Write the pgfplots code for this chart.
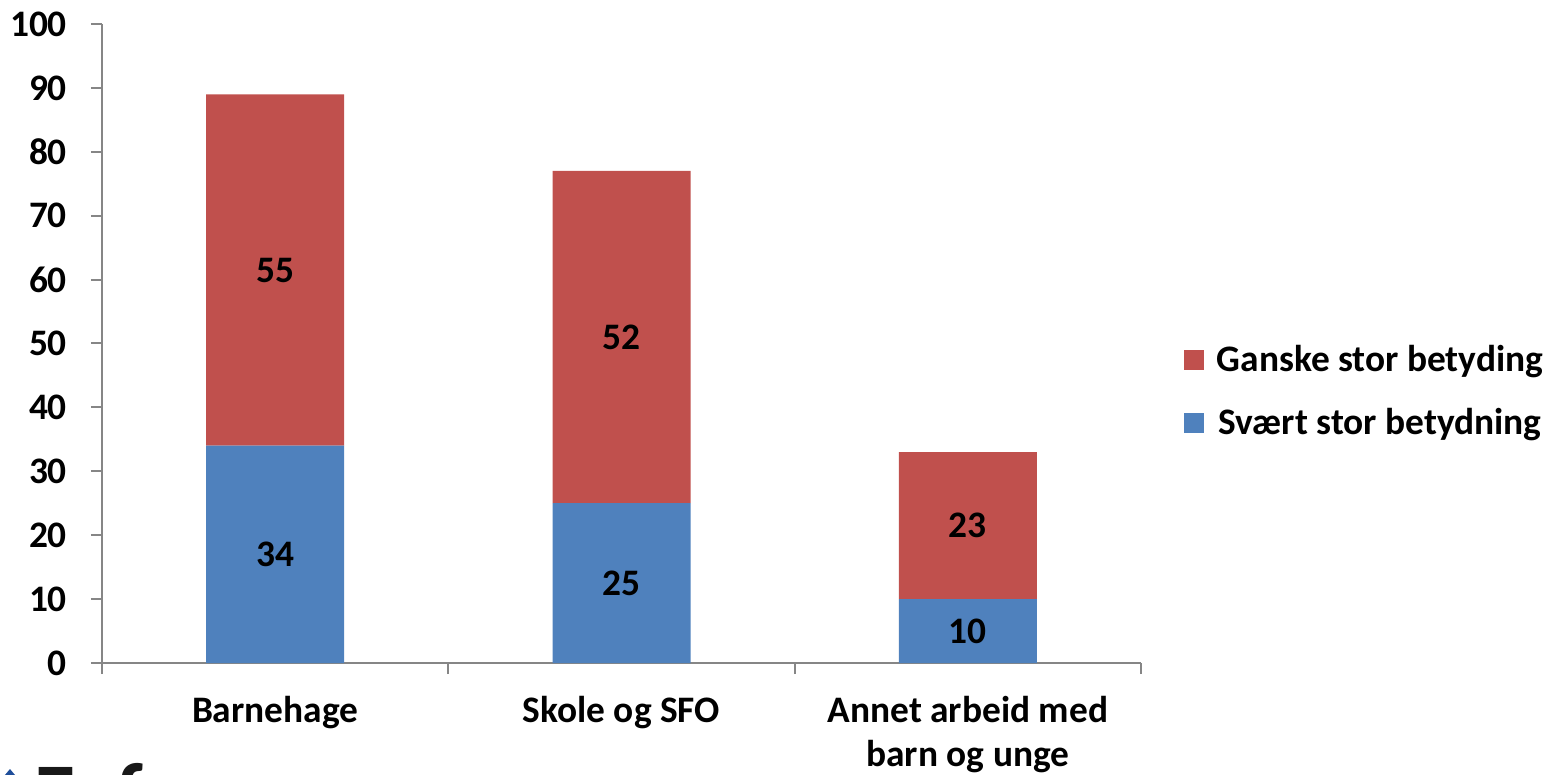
\documentclass[border=0pt]{standalone}
\usepackage{fontspec}
\setmainfont{Carlito}
\usepackage{pgfplots}
\pgfplotsset{compat=1.18}
\definecolor{cblue}{HTML}{4F81BD}
\definecolor{cred}{HTML}{C0504D}
\definecolor{axgray}{HTML}{868686}
\definecolor{logoblue}{HTML}{1F4E9A}
\newcommand{\lblfont}{\fontsize{18.7}{22}\selectfont\bfseries}
\pgfplotsset{
  common/.style={
    scale only axis, width=519.5pt, height=319.5pt,
    xmin=-0.5, xmax=2.5, ymin=0, ymax=100,
  }
}
\begin{document}
\begin{tikzpicture}
\begin{axis}[
  common,
  ybar stacked, bar width=69pt,
  ytick={0,10,...,100},
  xtick={0,1,2},
  xticklabels={Barnehage, Skole og SFO, {Annet arbeid med\\barn og unge}},
  minor xtick={-0.5,0.5,1.5,2.5},
  major x tick style={draw=none},
  axis x line*=bottom, axis y line*=left,
  axis line style={-, draw=axgray, line width=1pt},
  tick align=outside,
  tick style={axgray, line width=1pt},
  major tick length=5.5pt, minor tick length=5.5pt,
  /pgf/number format/assume math mode=true,
  ticklabel style={font=\lblfont, text=black},
  x tick label style={align=center, yshift=-7.5pt},
  y tick label style={xshift=-8.5pt},
  legend style={at={(1.035,0.425)}, anchor=west, draw=none, fill=none,
    font=\lblfont, row sep=14.5pt,
    nodes={inner sep=1pt},
    /tikz/every odd column/.append style={column sep=5.5pt}},
  legend image code/.code={\fill[#1] (0pt,-5pt) rectangle (10pt,5pt);},
  reverse legend,
]
\addplot[fill=cblue, draw=none] coordinates {(0,34) (1,25) (2,10)};
\addplot[fill=cred, draw=none] coordinates {(0,55) (1,52) (2,23)};
\legend{Svært stor betydning, Ganske stor betyding}
\end{axis}
\begin{axis}[
  common, hide axis,
  nodes near coords, point meta=explicit symbolic,
  every node near coord/.style={anchor=center, font=\lblfont, text=black},
]
\addplot[only marks, mark=none] coordinates {(0,17)[34] (1,12.5)[25] (2,5)[10] (0,61.5)[55] (1,51)[52] (2,21.5)[23]};
\end{axis}
\fill[logoblue] (-48.5pt,-56pt) -- (-46pt,-53pt) -- (-43.5pt,-56pt) -- (-46pt,-59pt) -- cycle;
\node[anchor=north west, inner sep=0pt, font=\fontsize{44}{44}\selectfont\bfseries, text=black!90] at (-34pt,-50pt) {Fafo};
\pgfresetboundingbox
\path (-51pt,-56pt) rectangle (724.5pt,331.5pt);
\end{tikzpicture}
\end{document}
